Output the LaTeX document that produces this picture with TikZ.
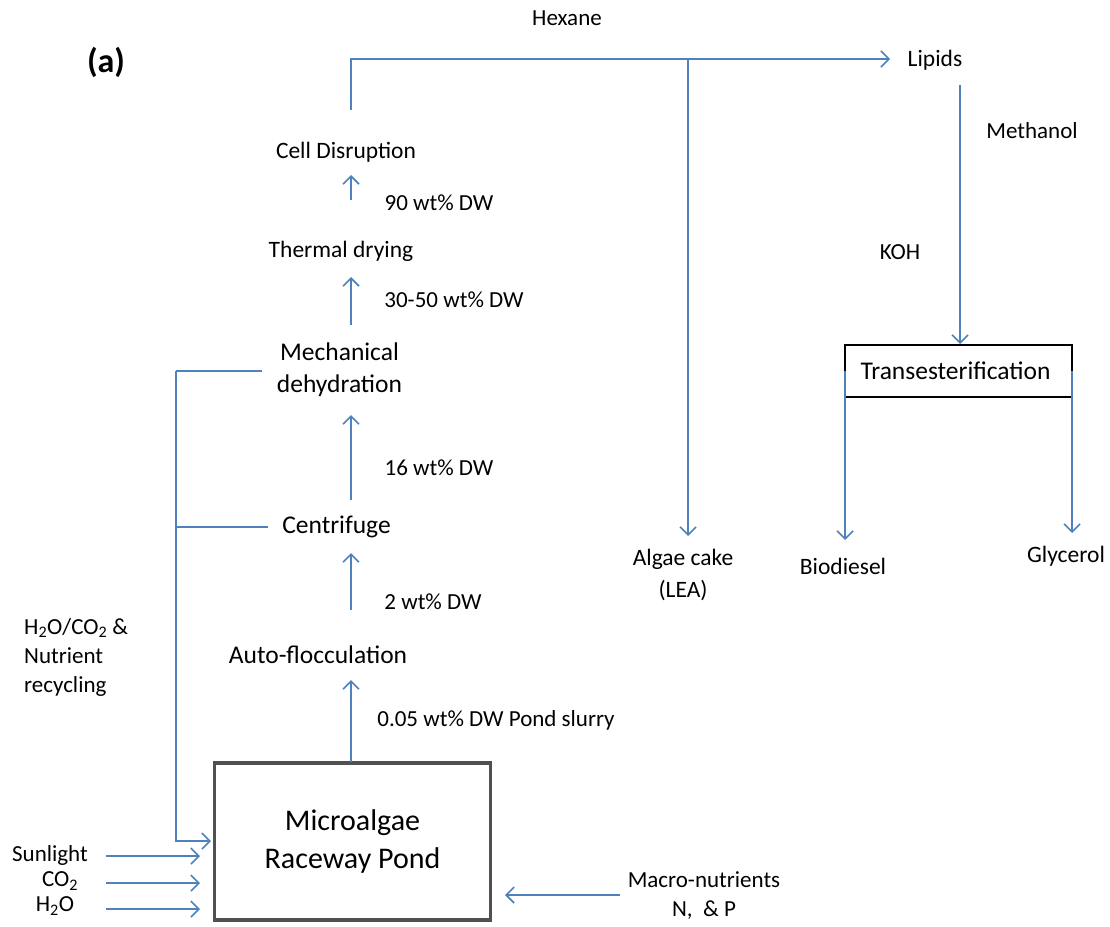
\documentclass[tikz,border=0pt]{standalone}
\usepackage{fontspec}
\setmainfont{Carlito}
\usetikzlibrary{arrows.meta}
\definecolor{flow}{HTML}{4F81BD}
\definecolor{pondedge}{HTML}{505050}
\begin{document}
\begin{tikzpicture}[x=1pt,y=-1pt,
  flowline/.style={draw=flow,line width=1.6pt},
  flowarrow/.style={flowline,-{Straight Barb[length=8pt,width=16pt,line width=1.6pt]}},
  lbl/.style={inner sep=0pt,font=\fontsize{23}{28}\selectfont},
  stage/.style={inner sep=0pt,font=\fontsize{23.5}{32}\selectfont,align=center},
  bigstage/.style={stage,font=\fontsize{25.5}{32}\selectfont},
]
\useasboundingbox (0,0) rectangle (1110,926);

% panel tag and reagents
\node[inner sep=0pt,font=\fontsize{34}{38}\selectfont\bfseries] (tag) at (106,62) {(a)};
\node[lbl] (hexane) at (567,18) {Hexane};
\node[lbl] (methanol) at (1032,131) {Methanol};
\node[lbl] (koh) at (900,252) {KOH};

% process stages
\node[stage] (cell) at (346,152) {Cell Disruption};
\node[stage] (thermal) at (341,251) {Thermal drying};
\node[bigstage] (mech) at (339.5,370) {Mechanical\\dehydration};
\node[bigstage] (centri) at (336.5,527) {Centrifuge};
\node[bigstage] (auto) at (318,655) {Auto-flocculation};
\node[draw=pondedge,line width=3.5pt,minimum width=276pt,minimum height=157pt,
  font=\fontsize{30}{38}\selectfont,align=center] (pond) at (352.5,841.5)
  {Microalgae\\Raceway Pond};

% products
\node[stage] (lipids) at (935,60) {Lipids};
\node[stage] (cake) at (683,575) {Algae cake\\(LEA)};
\node[stage] (biodiesel) at (843,566) {Biodiesel};
\node[stage] (glycerol) at (1066,556) {Glycerol};

% transesterification box: black top with corner ticks, black base
\node[bigstage] (trans) at (955.5,371) {Transesterification};
\coordinate (tnw) at (845,345);
\coordinate (tne) at (1072,345);
\coordinate (tsw) at (845,397);
\coordinate (tse) at (1072,397);
\draw[line width=1.4pt] (tsw) -- (tse);
\draw[line width=1.4pt] (845,371) -- (tnw) -- (tne) -- (1072,371);

% concentration labels
\node[lbl] (l90) at (439,203) {90 wt\% DW};
\node[lbl] (l3050) at (454,300) {30-50 wt\% DW};
\node[lbl] (l16) at (439,468) {16 wt\% DW};
\node[lbl] (l2) at (433,602) {2 wt\% DW};
\node[lbl] (l005) at (496,720) {0.05 wt\% DW Pond slurry};

% inputs
\node[lbl,align=left,anchor=west,font=\fontsize{23}{29}\selectfont] (recyc) at (24,657)
  {H\textsubscript{2}O/CO\textsubscript{2} \&\\Nutrient\\recycling};
\node[lbl] (sun) at (50,855) {Sunlight};
\node[lbl] (co2) at (60,881) {CO\textsubscript{2}};
\node[lbl] (h2o) at (55,906) {H\textsubscript{2}O};
\node[lbl,align=center,font=\fontsize{23}{29}\selectfont] (macro) at (704,896) {Macro-nutrients\\N,\ \ \& P};

% main chain
\draw[flowarrow] (351,762) -- (351,680);
\draw[flowarrow] (351,610) -- (351,553);
\draw[flowarrow] (351,500) -- (351,415);
\draw[flowarrow] (351,325) -- (351,277);
\draw[flowarrow] (351,200) -- (351,175);

% split after cell disruption
\coordinate (split) at (688,59);
\draw[flowline] (351,110) |- (split);
\draw[flowarrow] (split) -- (890,59);
\draw[flowarrow] (split) -- (688,536);
\draw[flowarrow] (960,85) -- (960,344);
\draw[flowarrow] (845,371) -- (845,540);
\draw[flowarrow] (1072,371) -- (1072,533);

% recycle loop
\coordinate (loop) at (176,371);
\draw[flowline] (262,371) -- (loop);
\draw[flowline] (268,527) -- (176,527);
\draw[flowarrow] (loop) |- (211,841);

% pond feeds
\draw[flowarrow] (106,856) -- (200,856);
\draw[flowarrow] (106,883) -- (200,883);
\draw[flowarrow] (106,909) -- (200,909);
\draw[flowarrow] (620,895) -- (505,895);
\end{tikzpicture}
\end{document}
